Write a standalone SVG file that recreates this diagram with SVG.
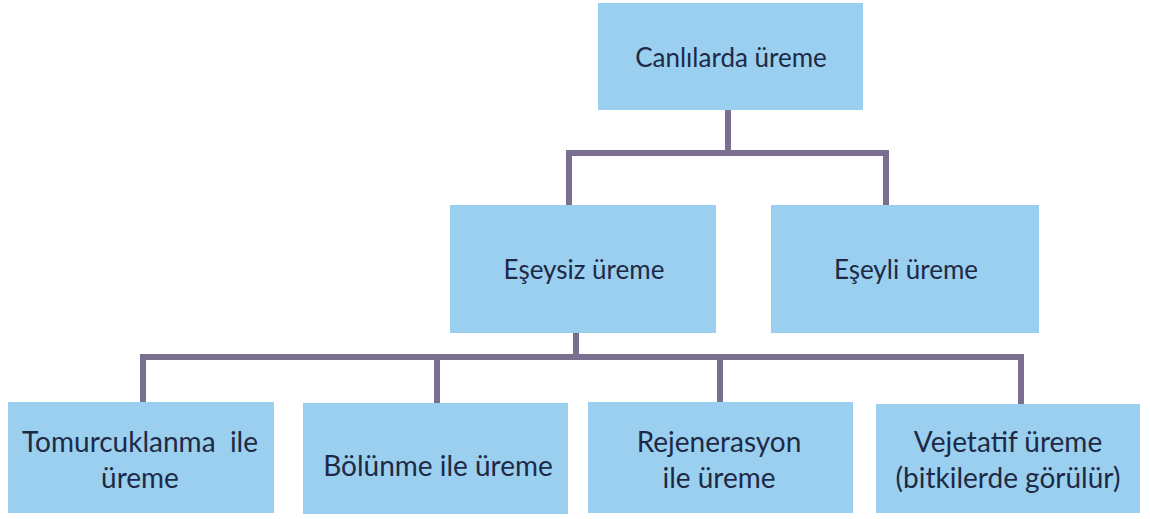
<svg xmlns="http://www.w3.org/2000/svg" width="1150" height="519" viewBox="0 0 1150 519">
<style>
.box{fill:#9bcfef;}
.lbl{font-family:Lato,"Open Sans",sans-serif;font-size:26px;fill:#1e2a45;text-anchor:middle;}
.big{font-size:28px;}
.con{fill:none;stroke:#7b6f8f;stroke-width:6;stroke-linecap:butt;stroke-linejoin:miter;}
</style>
<rect width="1150" height="519" fill="#ffffff"/>
<g id="connectors">
<path class="con" d="M728 110 V153"/>
<path class="con" d="M569 205 V153 H886 V205"/>
<path class="con" d="M576 333 V357"/>
<path class="con" d="M143 402 V357 H1021 V404"/>
<path class="con" d="M437 357 V403"/>
<path class="con" d="M720 357 V402"/>
</g>
<g id="n-canlilarda">
<rect class="box" x="598" y="3" width="265" height="107"/>
<text class="lbl" x="731" y="67">Canlılarda üreme</text>
</g>
<g id="n-eseysiz">
<rect class="box" x="450" y="205" width="266" height="128"/>
<text class="lbl" x="584" y="279">Eşeysiz üreme</text>
</g>
<g id="n-eseyli">
<rect class="box" x="771" y="205" width="268" height="128"/>
<text class="lbl" x="906" y="279">Eşeyli üreme</text>
</g>
<g id="n-tomurcuklanma">
<rect class="box" x="8" y="402" width="266" height="111"/>
<text class="lbl big" x="140" y="452" xml:space="preserve">Tomurcuklanma  ile</text>
<text class="lbl big" x="140" y="488">üreme</text>
</g>
<g id="n-bolunme">
<rect class="box" x="303" y="403" width="265" height="111"/>
<text class="lbl big" x="438" y="476">Bölünme ile üreme</text>
</g>
<g id="n-rejenerasyon">
<rect class="box" x="588" y="402" width="265" height="111"/>
<text class="lbl big" x="719" y="452">Rejenerasyon</text>
<text class="lbl big" x="719" y="488">ile üreme</text>
</g>
<g id="n-vejetatif">
<rect class="box" x="876" y="404" width="264" height="109"/>
<text class="lbl big" x="1008" y="452">Vejetatif üreme</text>
<text class="lbl big" x="1008" y="488">(bitkilerde görülür)</text>
</g>
</svg>
